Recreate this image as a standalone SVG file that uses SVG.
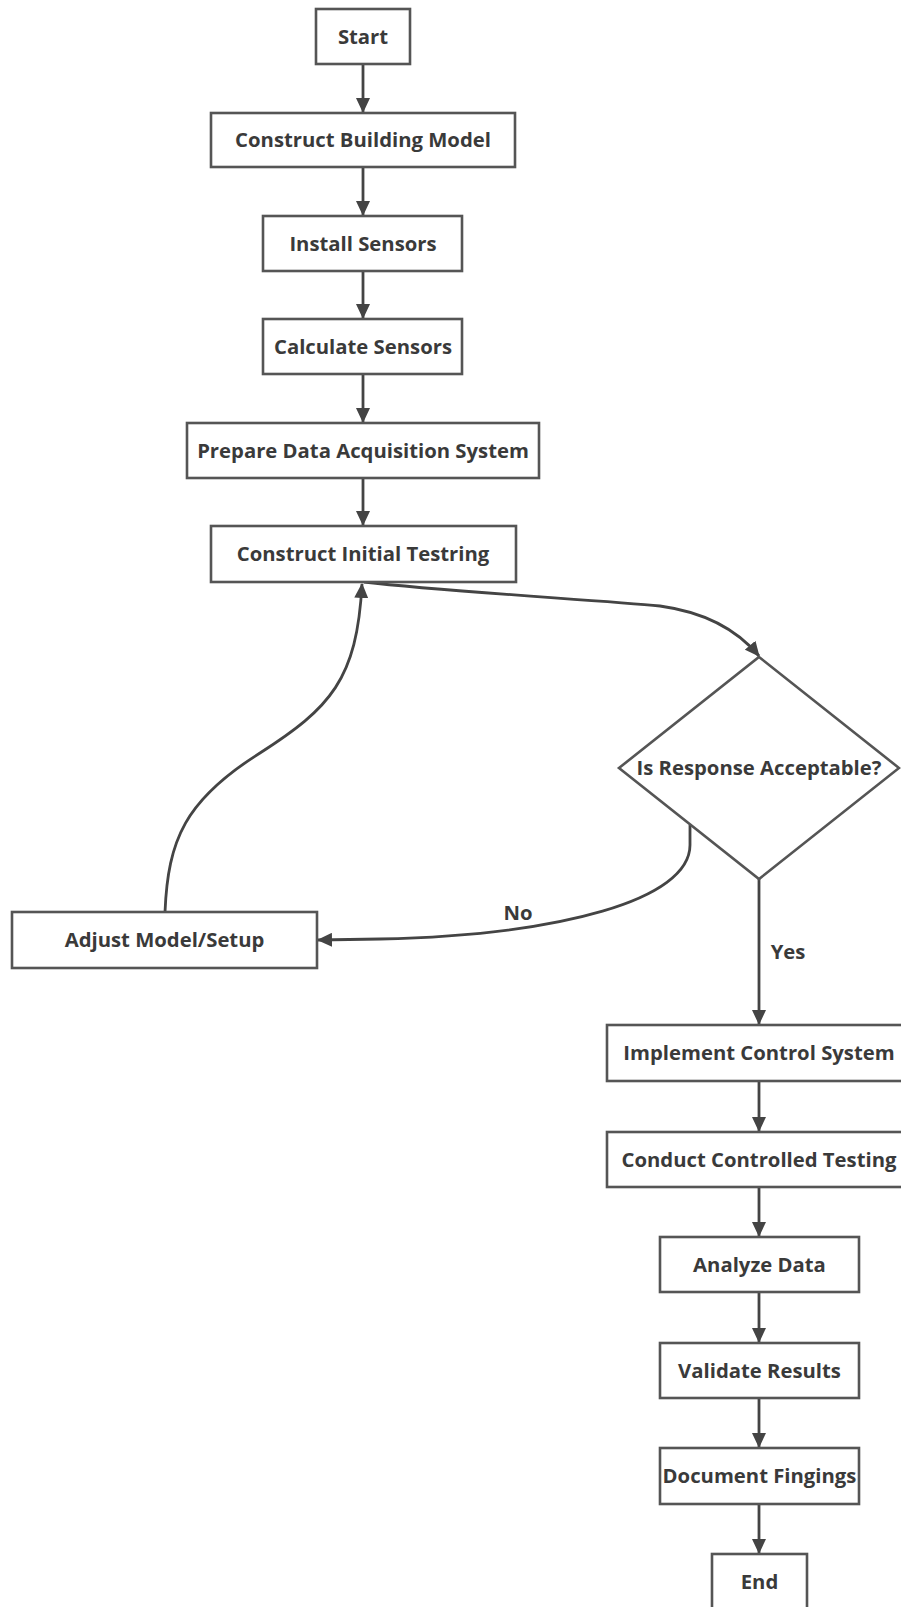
<svg xmlns="http://www.w3.org/2000/svg" width="901" height="1607" viewBox="0 0 901 1607">
<style>
.n rect,.n polygon{fill:#fff;stroke:#555;stroke-width:2.6}
.n text,.lbl{font-family:"Open Sans","Noto Sans","DejaVu Sans",sans-serif;font-weight:700;font-size:20.3px;fill:#3a3a3a;text-anchor:middle}
.e path{fill:none;stroke:#444;stroke-width:2.8;marker-end:url(#arr)}
</style>
<defs>
<marker id="arr" markerUnits="userSpaceOnUse" markerWidth="16" markerHeight="14" refX="14" refY="7" orient="auto">
<path d="M0,0 L15,7 L0,14 z" fill="#444"/>
</marker>
</defs>
<rect width="901" height="1607" fill="#fff"/>
<g class="e" id="connectors">
<path d="M363,64 L363,112"/>
<path d="M363,167 L363,215"/>
<path d="M363,271 L363,318"/>
<path d="M363,374 L363,422"/>
<path d="M363,478 L363,525"/>
<path d="M364,582 C450,592 600,600 660,606 Q725,615 759,656"/>
<path d="M690,825 L690,845 C690,900 560,935 380,939 L318,940"/>
<path d="M165,912 C168,840 185,800 260,753 C330,708 357,680 362,584"/>
<path d="M759,879 L759,1024"/>
<path d="M759,1081 L759,1131"/>
<path d="M759,1187 L759,1236"/>
<path d="M759,1292 L759,1342"/>
<path d="M759,1398 L759,1447"/>
<path d="M759,1504 L759,1553"/>
<text class="lbl" x="518" y="920">No</text>
<text class="lbl" x="788" y="959">Yes</text>
</g>
<g class="n" id="start"><rect x="316" y="9" width="94" height="55"/><text x="363" y="44">Start</text></g>
<g class="n" id="buildModel"><rect x="211" y="113" width="304" height="54"/><text x="363" y="147">Construct Building Model</text></g>
<g class="n" id="installSensors"><rect x="263" y="216" width="199" height="55"/><text x="363" y="251">Install Sensors</text></g>
<g class="n" id="calcSensors"><rect x="263" y="319" width="199" height="55"/><text x="363" y="354">Calculate Sensors</text></g>
<g class="n" id="prepareDAQ"><rect x="187" y="423" width="352" height="55"/><text x="363" y="458">Prepare Data Acquisition System</text></g>
<g class="n" id="initialTesting"><rect x="211" y="526" width="305" height="56"/><text x="363" y="561">Construct Initial Testring</text></g>
<g class="n" id="decision"><polygon points="759,657 899,768 759,879 619,768"/><text x="759" y="775">Is Response Acceptable?</text></g>
<g class="n" id="adjust"><rect x="12" y="912" width="305" height="56"/><text x="164.5" y="947">Adjust Model/Setup</text></g>
<g class="n" id="implement"><rect x="607" y="1025" width="304" height="56"/><text x="759" y="1060">Implement Control System</text></g>
<g class="n" id="conduct"><rect x="607" y="1132" width="304" height="55"/><text x="759" y="1167">Conduct Controlled Testing</text></g>
<g class="n" id="analyze"><rect x="660" y="1237" width="199" height="55"/><text x="759.5" y="1272">Analyze Data</text></g>
<g class="n" id="validate"><rect x="660" y="1343" width="199" height="55"/><text x="759.5" y="1378">Validate Results</text></g>
<g class="n" id="document"><rect x="660" y="1448" width="199" height="56"/><text x="759.5" y="1483">Document Fingings</text></g>
<g class="n" id="end"><rect x="712" y="1554" width="95" height="55"/><text x="759.5" y="1589">End</text></g>
</svg>
